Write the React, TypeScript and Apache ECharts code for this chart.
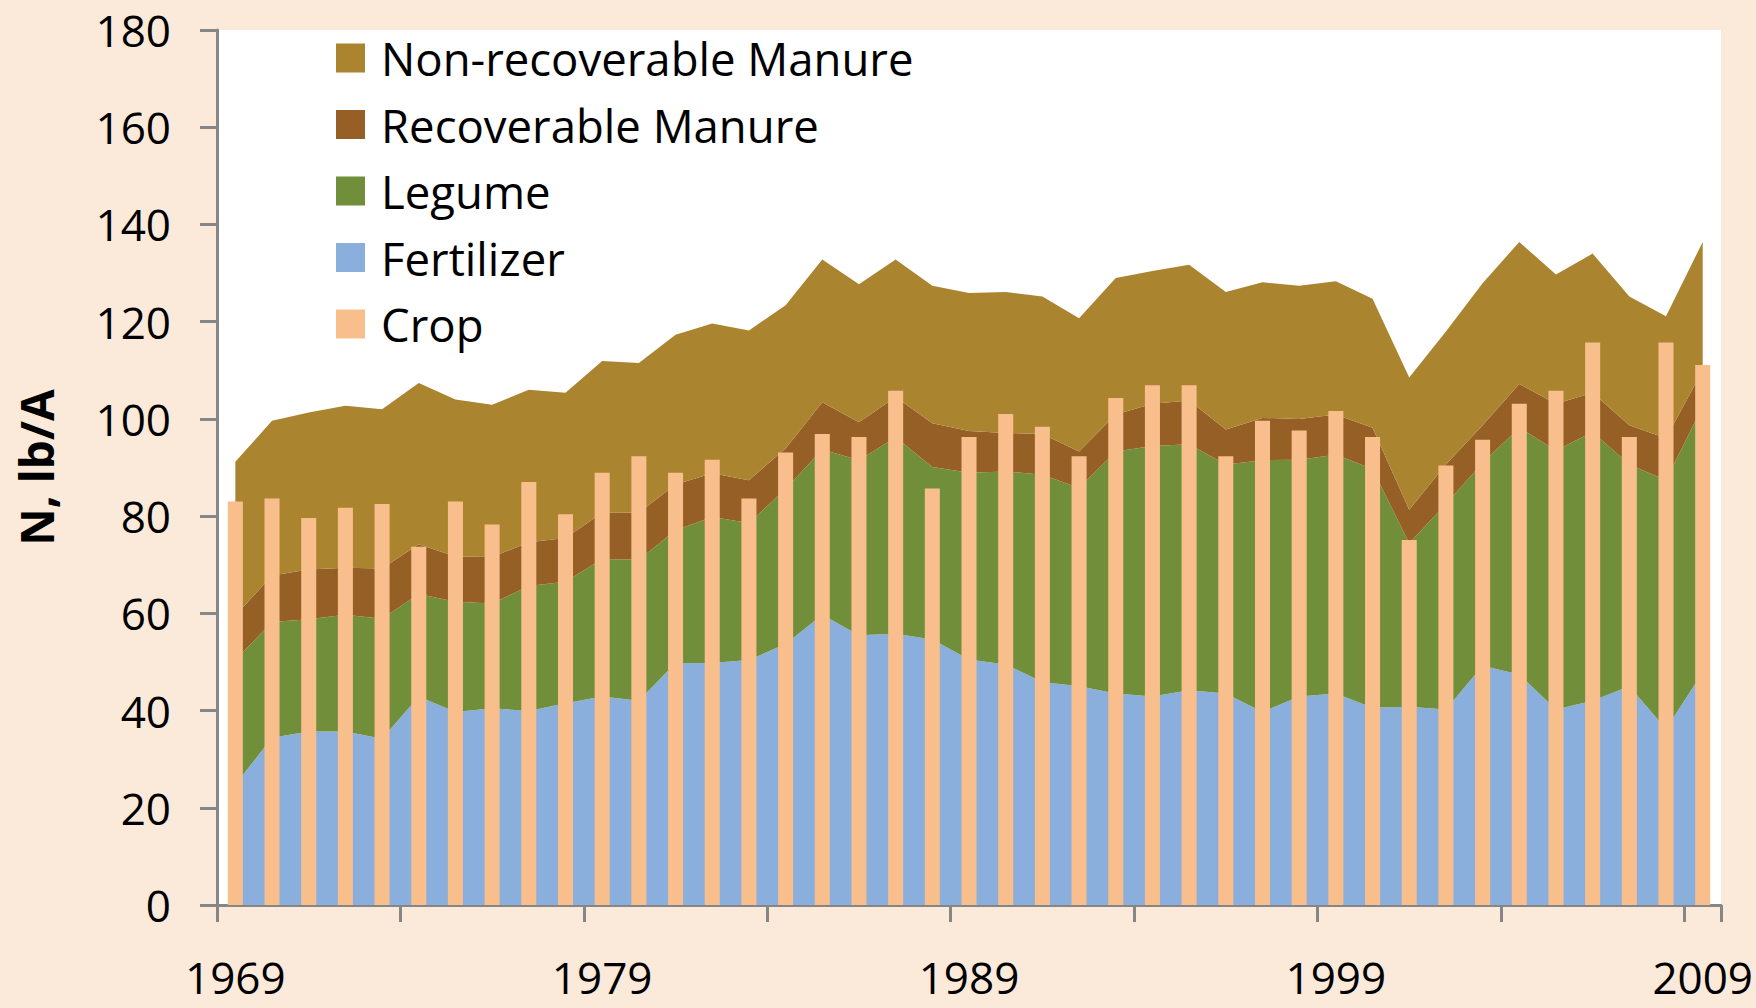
import React, { useEffect, useRef } from "react";
import * as echarts from "echarts";

const years = [
  "1969", "1970", "1971", "1972", "1973", "1974", "1975", "1976", "1977", "1978",
  "1979", "1980", "1981", "1982", "1983", "1984", "1985", "1986", "1987", "1988",
  "1989", "1990", "1991", "1992", "1993", "1994", "1995", "1996", "1997", "1998",
  "1999", "2000", "2001", "2002", "2003", "2004", "2005", "2006", "2007", "2008",
  "2009",
];

const fertilizer = [
  24.8, 34.4, 35.7, 35.7, 34.2, 42.9, 39.7, 40.5, 39.9, 41.5,
  42.9, 42.0, 49.8, 49.8, 50.4, 53.7, 59.7, 55.5, 55.8, 54.6,
  50.5, 49.5, 45.9, 45.0, 43.5, 42.9, 44.2, 43.5, 39.7, 42.9,
  43.5, 40.6, 40.8, 40.2, 49.2, 47.4, 40.2, 42.0, 45.0, 36.2,
  47.9,
];

const legume = [
  25.6, 23.8, 23.1, 24.0, 24.7, 21.1, 22.7, 21.5, 25.7, 25.0,
  28.3, 29.0, 27.3, 30.0, 28.2, 31.9, 34.0, 36.0, 40.4, 35.5,
  38.4, 39.7, 42.6, 40.8, 49.8, 51.5, 50.6, 47.1, 51.8, 48.7,
  49.1, 49.1, 33.6, 42.3, 41.8, 50.8, 53.3, 55.3, 45.6, 51.2,
  54.7,
];

const recoverableManure = [
  9.1, 9.6, 10.2, 9.7, 10.3, 10.2, 9.3, 9.6, 9.0, 9.0,
  9.5, 9.7, 9.4, 9.0, 8.8, 8.3, 9.7, 7.8, 8.3, 9.0,
  8.6, 7.9, 8.4, 7.5, 7.6, 8.7, 9.0, 7.2, 8.7, 8.4,
  8.3, 8.5, 6.9, 8.1, 7.7, 9.0, 9.6, 8.1, 8.1, 8.6,
  7.4,
];

const nonRecoverableManure = [
  31.7, 31.8, 32.3, 33.3, 32.8, 33.2, 32.3, 31.3, 31.4, 29.9,
  31.2, 30.8, 30.8, 30.8, 30.8, 29.5, 29.4, 28.4, 28.3, 28.3,
  28.4, 29.0, 28.3, 27.4, 28.1, 27.3, 27.9, 28.3, 27.9, 27.4,
  27.4, 26.5, 27.2, 27.4, 29.2, 29.2, 26.6, 28.6, 26.5, 25.1,
  26.4,
];

const crop = [
  83.0, 83.6, 79.6, 81.7, 82.5, 73.7, 83.0, 78.3, 87.0, 80.4,
  88.9, 92.3, 88.9, 91.6, 83.6, 93.1, 96.9, 96.3, 105.8, 85.7,
  96.3, 101.0, 98.4, 92.3, 104.3, 106.9, 106.9, 92.3, 99.6, 97.6,
  101.6, 96.3, 75.1, 90.4, 95.7, 103.1, 105.8, 115.7, 96.3, 115.7,
  111.1,
];

const legendOrder = [
  "Non-recoverable Manure",
  "Recoverable Manure",
  "Legume",
  "Fertilizer",
  "Crop",
];

const COLORS = {
  nonRec: "#AB8430",
  rec: "#965F26",
  legume: "#718F3A",
  fert: "#8BAFDC",
  crop: "#F8BE8C",
};

const FONT = "'Open Sans', 'Noto Sans', sans-serif";
const AXIS_GRAY = "#868686";

function areaSeries(name: string, data: number[], color: string) {
  return {
    name,
    type: "line",
    stack: "total",
    data,
    symbol: "none",
    showSymbol: false,
    lineStyle: { width: 0, color },
    itemStyle: { color },
    areaStyle: { color, opacity: 1 },
    z: 2,
  };
}

export default function App() {
  const ref = useRef<HTMLDivElement>(null);

  useEffect(() => {
    document.body.style.margin = "0";
    const chart = echarts.init(ref.current!, null, { renderer: "svg" });
    chart.setOption({
      animation: false,
      backgroundColor: "#FBE9DA",
      grid: {
        left: 217,
        right: 34,
        top: 30,
        bottom: 103,
        show: true,
        backgroundColor: "#FFFFFF",
        borderWidth: 0,
      },
      legend: {
        orient: "vertical",
        left: 336,
        top: 35,
        padding: 0,
        itemWidth: 29,
        itemHeight: 29,
        itemGap: 20.5,
        icon: "rect",
        selectedMode: false,
        data: legendOrder,
        textStyle: {
          fontFamily: FONT,
          fontSize: 45.5,
          color: "#000",
          padding: [0, 0, 0, 11],
        },
      },
      xAxis: {
        type: "category",
        data: years,
        boundaryGap: true,
        axisLine: { show: true, lineStyle: { color: AXIS_GRAY, width: 3 } },
        axisTick: {
          show: true,
          interval: 4,
          length: 17,
          alignWithLabel: false,
          lineStyle: { color: AXIS_GRAY, width: 3 },
        },
        axisLabel: {
          interval: 9,
          margin: 57,
          fontFamily: FONT,
          fontSize: 44,
          lineHeight: 30,
          color: "#000",
        },
        splitLine: { show: false },
      },
      yAxis: {
        type: "value",
        min: 0,
        max: 180,
        interval: 20,
        name: "N, lb/A",
        nameLocation: "middle",
        nameRotate: 90,
        nameGap: 158,
        nameTextStyle: {
          fontFamily: FONT,
          fontSize: 46,
          fontWeight: "bold",
          color: "#000",
        },
        axisLine: { show: true, lineStyle: { color: AXIS_GRAY, width: 3 } },
        axisTick: { show: true, length: 17, lineStyle: { color: AXIS_GRAY, width: 3 } },
        axisLabel: {
          margin: 46,
          fontFamily: FONT,
          fontSize: 44,
          color: "#000",
        },
        splitLine: { show: false },
      },
      series: [
        areaSeries("Fertilizer", fertilizer, COLORS.fert),
        areaSeries("Legume", legume, COLORS.legume),
        areaSeries("Recoverable Manure", recoverableManure, COLORS.rec),
        areaSeries("Non-recoverable Manure", nonRecoverableManure, COLORS.nonRec),
        {
          name: "Crop",
          type: "bar",
          data: crop,
          barWidth: "41%",
          itemStyle: { color: COLORS.crop },
          z: 4,
        },
      ],
    });
    return () => chart.dispose();
  }, []);

  return (
    <div
      ref={ref}
      style={{ position: "fixed", left: 0, top: 0, width: 1756, height: 1008 }}
    />
  );
}
